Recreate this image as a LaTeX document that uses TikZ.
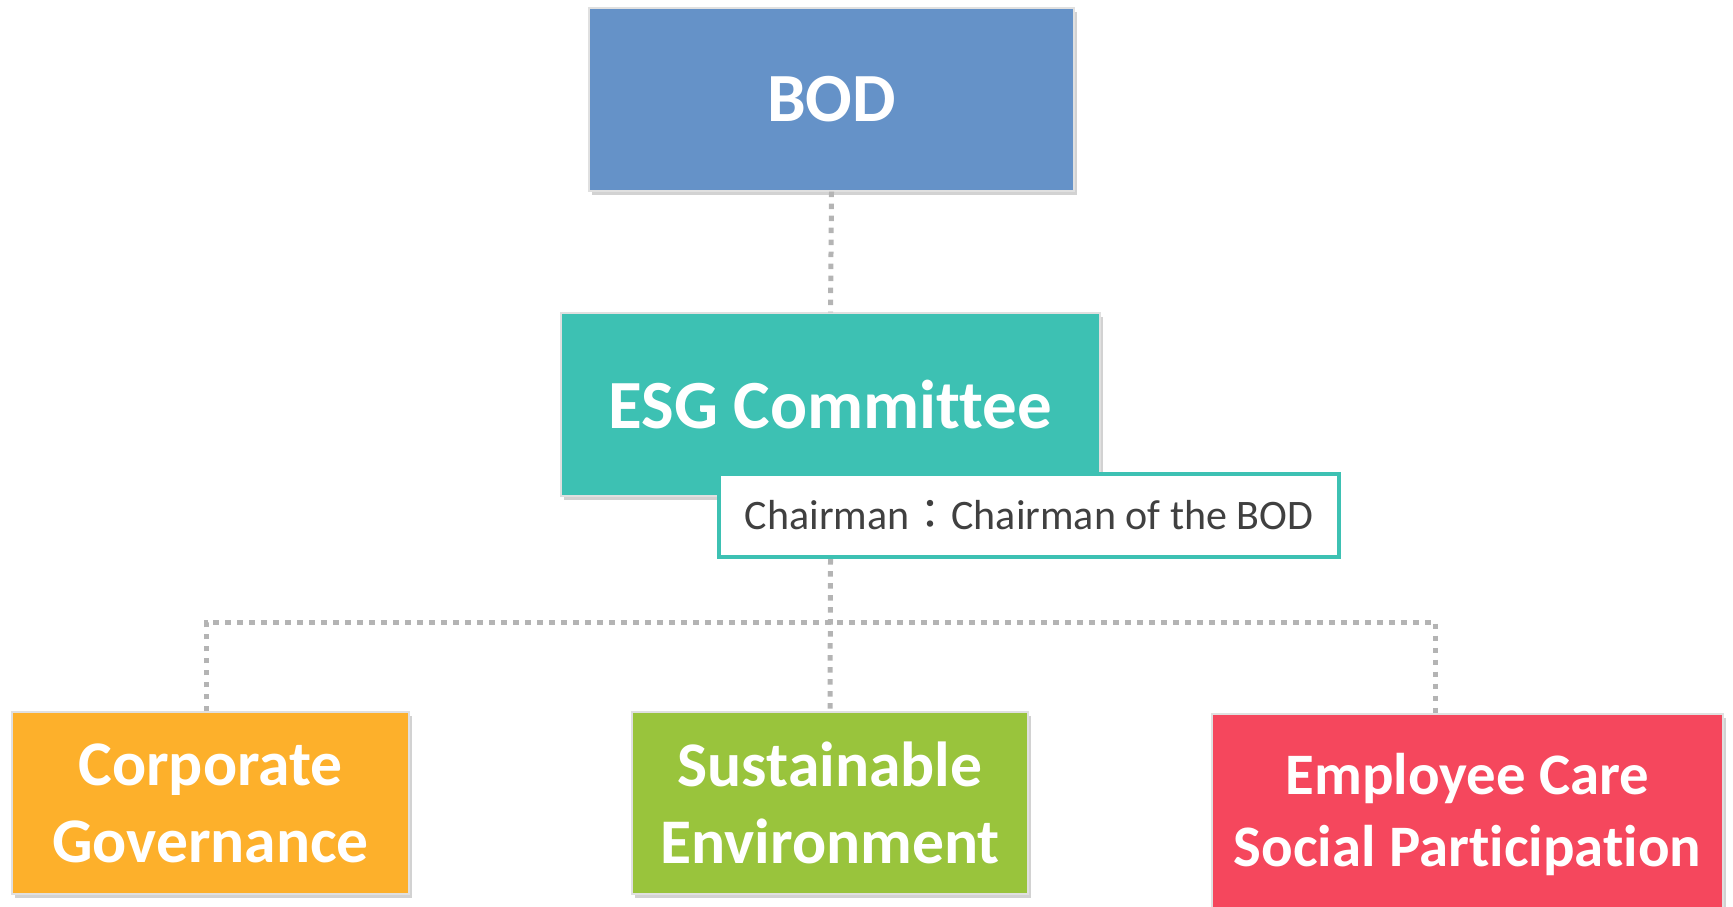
\documentclass[tikz,border=0pt]{standalone}
\usepackage{fontspec}
\setmainfont{Carlito}[Ligatures={NoCommon}]
\newfontfamily\cjkfont{Noto Sans CJK TC}
\usepackage{xcolor}
\usetikzlibrary{shadows}
\definecolor{bodblue}{HTML}{6592C8}
\definecolor{esgteal}{HTML}{3DC1B3}
\definecolor{govorange}{HTML}{FDB02B}
\definecolor{envgreen}{HTML}{99C43C}
\definecolor{socred}{HTML}{F5475D}
\definecolor{linkgray}{HTML}{B4B4B4}
\definecolor{chairtext}{HTML}{404040}

\begin{document}
\begin{tikzpicture}[x=0.5pt,y=-0.5pt,
    box/.style={rectangle,draw=black!12,line width=0.6pt,inner sep=0pt,text=white,align=center,
      drop shadow={shadow xshift=1.5pt,shadow yshift=-2pt,opacity=0.25,fill=black!70}},
    topfont/.style={font=\bfseries\fontsize{34.5}{40}\selectfont},
    subfont/.style={font=\bfseries\fontsize{31.8}{38.5}\selectfont},
    link/.style={draw=linkgray,line width=2.5pt,dash pattern=on 2.75pt off 3.25pt}]
    \useasboundingbox (0,0) rectangle (1733,906);
    % top levels
    \node[box,topfont,fill=bodblue,minimum width=242.5pt,minimum height=91.5pt] (bod) at (831.5,99.5) {BOD};
    \node[box,topfont,fill=esgteal,minimum width=269.5pt,minimum height=91.5pt] (esg) at (830.5,404.5) {ESG Committee};
    \node[rectangle,draw=esgteal,line width=2.2pt,fill=white,inner sep=0pt,minimum width=310pt,minimum height=41.5pt,
      text=chairtext,font=\fontsize{21}{25}\selectfont] (chair) at (1029,515.5) {Chairman{\cjkfont ：}Chairman of the BOD};
    % three working groups
    \node[box,subfont,fill=govorange,minimum width=198.5pt,minimum height=91pt] (gov) at (210.5,803) {Corporate\\Governance};
    \node[box,subfont,fill=envgreen,minimum width=198pt,minimum height=91pt] (env) at (830,803) {Sustainable\\Environment};
    \node[box,font=\bfseries\fontsize{29.4}{36}\selectfont,fill=socred,minimum width=255.5pt,minimum height=100pt] (soc) at (1467.5,814) {Employee Care\\Social Participation};
    % connectors
    \coordinate (bus) at (831,622);
    \coordinate (govin) at ([xshift=-2pt]gov.north);
    \coordinate (socin) at ([xshift=-16pt]soc.north);
    \draw[link] (bod.south) -- (esg.north);
    \draw[link] (esg.south |- chair.south) -- (env.north);
    \draw[link] (govin) |- (bus) -| (socin);
\end{tikzpicture}
\end{document}
